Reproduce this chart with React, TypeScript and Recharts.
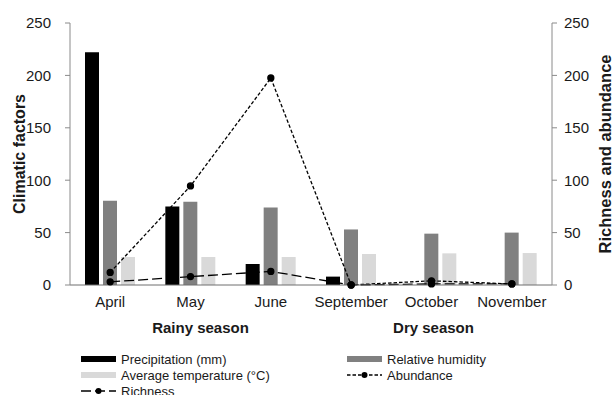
import React from 'react';
import { ComposedChart, Bar, Line, XAxis, YAxis, Legend } from 'recharts';

// values
const months = ['April', 'May', 'June', 'September', 'October', 'November'];
const precipitation = [222, 75, 20, 8, 0, 0];
const humidity = [80.5, 79.5, 74, 53, 49, 50];
const temperature = [26.7, 26.7, 26.7, 29.6, 30.2, 30.5];
const abundance = [12, 94.5, 197.5, 0, 4, 1];
const richness = [3, 8, 13, 0, 1, 1];
const axisTicks = [0, 50, 100, 150, 200, 250];
const seasons = [
  { label: 'Rainy season', under: 'May' },
  { label: 'Dry season', under: 'October' },
];

const data = months.map((month, i) => ({
  month,
  precipitation: precipitation[i],
  humidity: humidity[i],
  temperature: temperature[i],
  abundance: abundance[i],
  richness: richness[i],
}));

const FONT = '"Liberation Sans", Arial, sans-serif';
const TEXT = '#1a1a1a';
const AXIS = '#8a8a8a';

// season captions sit a little off the middle month in the original
const seasonNudge: Record<string, number> = { May: 10, October: 2 };

const MonthTick = (props: any) => {
  const { x, y, payload } = props;
  const season = seasons.find((s) => s.under === payload.value);
  return (
    <g>
      <text x={x} y={y} dy="0.71em" textAnchor="middle" fontSize={15} fill={TEXT} fontFamily={FONT}>
        {payload.value}
      </text>
      {season && (
        <text
          x={x + (seasonNudge[payload.value] || 0)}
          y={y + 26}
          dy="0.71em"
          textAnchor="middle"
          fontSize={15}
          fontWeight="bold"
          fill={TEXT}
          fontFamily={FONT}
        >
          {season.label}
        </text>
      )}
    </g>
  );
};

const legendItems = [
  { name: 'Precipitation (mm)', kind: 'bar', color: '#000000' },
  { name: 'Relative humidity', kind: 'bar', color: '#808080' },
  { name: 'Average temperature (°C)', kind: 'bar', color: '#d9d9d9' },
  { name: 'Abundance', kind: 'line', dash: '3.5 2' },
  { name: 'Richness', kind: 'line', dash: '10 4' },
];

const LegendIcon = ({ item }: { item: any }) => (
  <svg width={36} height={10} style={{ marginRight: 4, flex: 'none' }}>
    {item.kind === 'bar' ? (
      <rect x={0} y={2} width={35} height={6} fill={item.color} />
    ) : (
      <>
        <line x1={0} y1={5} x2={35} y2={5} stroke="#000" strokeWidth={1.3} strokeDasharray={item.dash} />
        <circle cx={17.5} cy={5} r={3} fill="#000" />
      </>
    )}
  </svg>
);

const renderLegend = () => {
  const cols = [81, 347];
  return (
    <div style={{ position: 'relative', width: 616, height: 60, fontFamily: FONT, fontSize: 13, color: TEXT }}>
      {legendItems.map((item, i) => (
        <div
          key={item.name}
          style={{
            position: 'absolute',
            left: cols[i % 2],
            top: 16 + Math.floor(i / 2) * 16,
            height: 16,
            display: 'flex',
            alignItems: 'center',
            whiteSpace: 'nowrap',
          }}
        >
          <LegendIcon item={item} />
          <span>{item.name}</span>
        </div>
      ))}
    </div>
  );
};

export default function App() {
  return (
    <div style={{ position: 'absolute', left: 0, top: 0, width: 616, height: 395, background: '#fff' }}>
      <ComposedChart
        width={616}
        height={395}
        data={data}
        margin={{ top: 23, right: 0, bottom: 0, left: 0 }}
        barSize={14}
        barGap={4}
      >
        <XAxis
          dataKey="month"
          height={50}
          tickSize={0}
          tickMargin={11}
          tick={<MonthTick />}
          axisLine={{ stroke: '#6e6e6e' }}
          interval={0}
        />
        <YAxis
          yAxisId="left"
          width={70}
          domain={[0, 250]}
          ticks={axisTicks}
          tickSize={5}
          tickMargin={14}
          axisLine={{ stroke: AXIS }}
          tickLine={{ stroke: AXIS }}
          tick={{ fontSize: 15, fill: TEXT, fontFamily: FONT }}
          label={{
            value: 'Climatic factors',
            angle: -90,
            position: 'center',
            dx: -16,
            style: { fontSize: 16, fontWeight: 'bold', fill: TEXT, fontFamily: FONT },
          }}
        />
        <YAxis
          yAxisId="right"
          orientation="right"
          width={64}
          domain={[0, 250]}
          ticks={axisTicks}
          tickSize={5}
          tickMargin={7}
          axisLine={{ stroke: AXIS }}
          tickLine={{ stroke: AXIS }}
          tick={{ fontSize: 15, fill: TEXT, fontFamily: FONT }}
          label={{
            value: 'Richness and abundance',
            angle: -90,
            position: 'center',
            dx: 21,
            style: { fontSize: 16.5, fontWeight: 'bold', fill: TEXT, fontFamily: FONT },
          }}
        />
        <Bar yAxisId="left" dataKey="precipitation" name="Precipitation (mm)" fill="#000000" isAnimationActive={false} />
        <Bar yAxisId="left" dataKey="humidity" name="Relative humidity" fill="#808080" isAnimationActive={false} />
        <Bar yAxisId="left" dataKey="temperature" name="Average temperature (°C)" fill="#d9d9d9" isAnimationActive={false} />
        <Line
          yAxisId="right"
          dataKey="abundance"
          name="Abundance"
          type="linear"
          stroke="#000"
          strokeWidth={1.3}
          strokeDasharray="3.5 2"
          dot={{ r: 3, fill: '#000', stroke: '#000', strokeDasharray: 'none' }}
          isAnimationActive={false}
        />
        <Line
          yAxisId="right"
          dataKey="richness"
          name="Richness"
          type="linear"
          stroke="#000"
          strokeWidth={1.3}
          strokeDasharray="10 4"
          dot={{ r: 3, fill: '#000', stroke: '#000', strokeDasharray: 'none' }}
          isAnimationActive={false}
        />
        <Legend
          verticalAlign="bottom"
          content={renderLegend}
          wrapperStyle={{ left: 0, bottom: 0, width: 616, height: 60 }}
        />
      </ComposedChart>
    </div>
  );
}
